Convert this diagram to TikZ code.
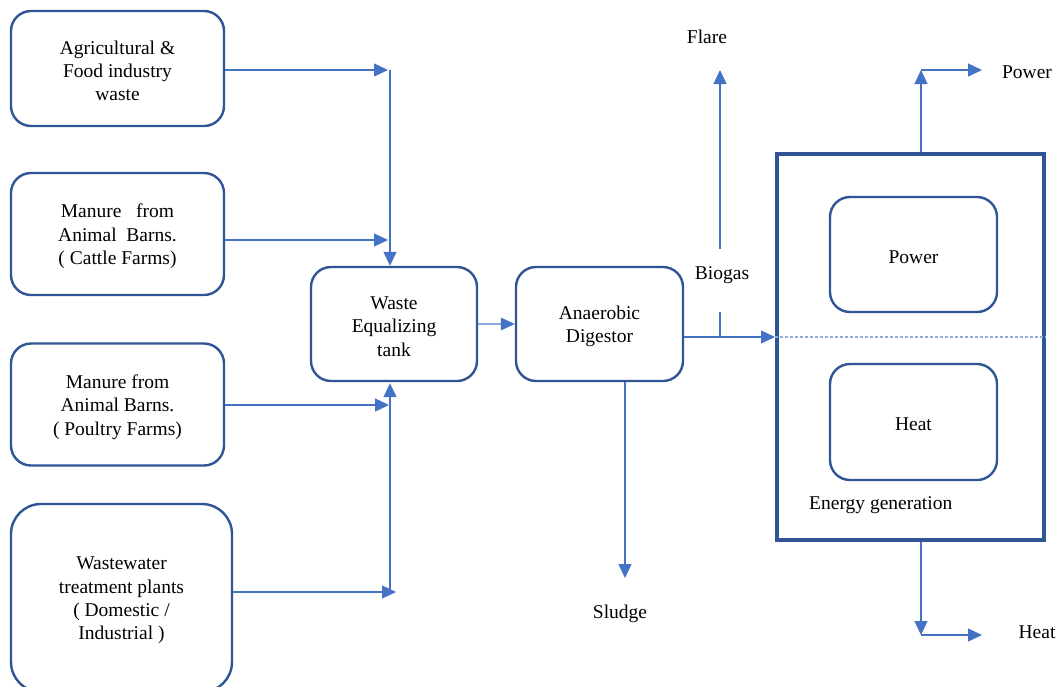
\documentclass[tikz,border=0pt]{standalone}
\usepackage{fontspec}
\setmainfont{Liberation Serif}
\usetikzlibrary{arrows.meta}
\definecolor{boxblue}{HTML}{2F5597}
\definecolor{connblue}{HTML}{4472C4}
\definecolor{lightblue}{HTML}{8FAADC}
\newcommand{\boxtext}[2]{\raisebox{-2.5pt}[\height][\depth]{\parbox{#1}{\centering #2}}}
\tikzset{
  rbox/.style={draw=boxblue, line width=2.4pt, rounded corners=20pt, fill=white,
    align=center, inner sep=0pt, font=\fontsize{19.5}{23.3}\selectfont},
  lbl/.style={inner sep=0pt, font=\fontsize{19.5}{23.3}\selectfont},
  conn/.style={draw=connblue, line width=1.3pt, -{Triangle[length=14pt,width=13pt]}, color=connblue},
  plain/.style={draw=connblue, line width=1.3pt},
}
\begin{document}
\begin{tikzpicture}[x=1pt,y=-1pt]
\useasboundingbox (0,0) rectangle (1058,686);
\begin{scope}
\clip (0,0) rectangle (1058,686);
% source boxes
\node[rbox, minimum width=213pt, minimum height=115pt] (b1) at (117.5,68.5) {\boxtext{200pt}{Agricultural \&\\Food industry\\waste}};
\node[rbox, minimum width=213pt, minimum height=122pt] (b2) at (117.5,234) {\boxtext{200pt}{Manure \ \ from\\Animal \ Barns.\\( Cattle Farms)}};
\node[rbox, minimum width=213pt, minimum height=122pt] (b3) at (117.5,404.5) {\boxtext{200pt}{Manure from\\Animal Barns.\\( Poultry Farms)}};
\node[rbox, minimum width=221pt, minimum height=188pt, rounded corners=30pt] (b4) at (121.5,598) {\boxtext{200pt}{Wastewater\\treatment plants\\( Domestic /\\Industrial )}};
\end{scope}
% tank and digestor
\node[rbox, minimum width=166pt, minimum height=114pt] (tank) at (394,324) {\boxtext{150pt}{Waste\\Equalizing\\tank}};
\node[rbox, minimum width=167pt, minimum height=114pt] (dig) at (599.5,324) {\boxtext{150pt}{Anaerobic\\Digestor}};
% energy generation
\node[draw=boxblue, line width=4pt, minimum width=267pt, minimum height=386pt, inner sep=0pt] (egen) at (910.5,347) {};
\node[rbox, minimum width=167pt, minimum height=115pt] (pbox) at (913.5,254.5) {\boxtext{150pt}{Power}};
\node[rbox, minimum width=167pt, minimum height=116pt] (hbox) at (913.5,422) {\boxtext{150pt}{Heat}};
\node[lbl, anchor=west] (eglbl) at (809,505.5) {Energy generation};
% junction coordinates
\coordinate (j1) at (390,70);
\coordinate (j2) at (390,240);
\coordinate (j3) at (390,405);
\coordinate (j4) at (390,592);
% inputs
\draw[conn] (b1.east |- j1) -- ([xshift=-2pt]j1);
\draw[conn] (b2.east |- j2) -- ([xshift=-2pt]j2);
\draw[conn] (b3.east |- j3) -- ([xshift=-1pt]j3);
\draw[conn] (b4.east |- j4) -- ([xshift=6pt]j4);
\draw[conn] (j1) -- (j1 |- tank.north);
\draw[conn] (j4) -- ([yshift=-1pt]j4 |- tank.south);
% tank to digestor
\draw[draw=lightblue, line width=1.3pt] (tank.east) -- ([xshift=-12pt]dig.west);
\fill[connblue] (dig.west) -- ++(-14,-6.5) -- ++(0,13) -- cycle;
% biogas
\coordinate (bgsplit) at (720,337);
\coordinate (bgbot) at (720,312);
\coordinate (bgtop) at (720,249);
\coordinate (flaretip) at (720,70);
\draw[draw=lightblue, line width=1.1pt, dash pattern=on 3pt off 2pt] (egen.west |- bgsplit) -- (egen.east |- bgsplit);
\draw[conn] (dig.east |- bgsplit) -- (egen.west |- bgsplit);
\draw[plain] (bgsplit) -- (bgbot);
\draw[conn] (bgtop) -- (flaretip);
\node[lbl] (biogas) at (722,275.5) {Biogas};
\node[lbl] (flare) at (707,37) {Flare};
% sludge
\coordinate (sltip) at (625,578);
\draw[conn] (dig.south -| sltip) -- (sltip);
\node[lbl] (sludge) at (620,613.5) {Sludge};
% power out
\coordinate (pwc) at (921,70);
\coordinate (pwtip) at (982,70);
\draw[conn] (egen.north -| pwc) -- (pwc);
\draw[conn] (pwc) -- (pwtip);
\node[lbl] (power) at (1027,72.5) {Power};
% heat out
\coordinate (htc) at (921,635);
\coordinate (httip) at (982,635);
\draw[conn] (egen.south -| htc) -- (htc);
\draw[conn] (htc) -- (httip);
\node[lbl] (heat) at (1037,632.5) {Heat};
\end{tikzpicture}
\end{document}
